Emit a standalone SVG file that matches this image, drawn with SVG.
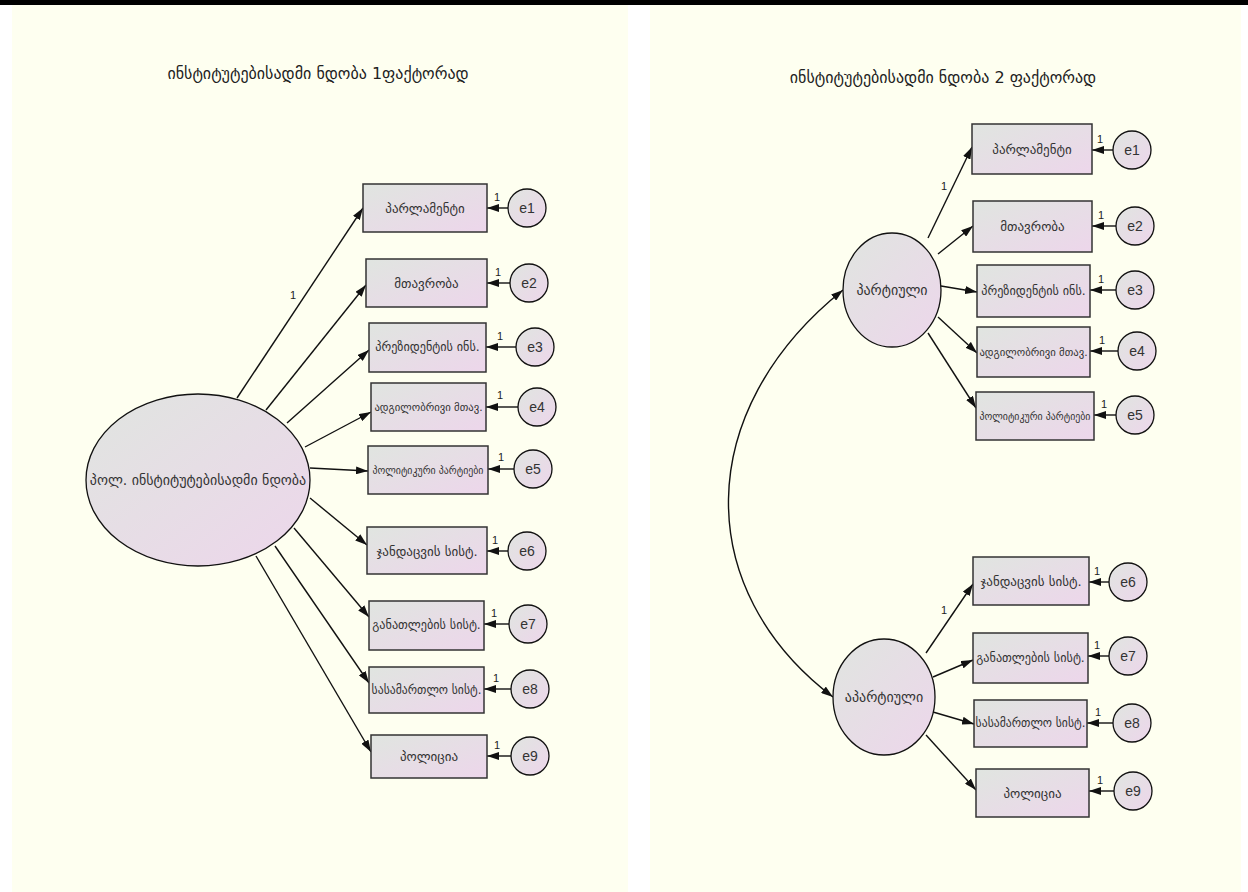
<svg xmlns="http://www.w3.org/2000/svg" width="1248" height="892" viewBox="0 0 1248 892">
<style>
.bg{fill:#FEFFF0}
.box{fill:url(#g);stroke:#333;stroke-width:1.5}
.lat{fill:url(#g);stroke:#111;stroke-width:1.3}
.err{fill:url(#g);stroke:#111;stroke-width:1.3}
.t{font-family:"DejaVu Sans",sans-serif;font-size:13px;fill:#333;text-anchor:middle;dominant-baseline:central}
.lt{font-size:14px}
.s3{font-size:12.2px}
.s4{font-size:10.7px}
.s5{font-size:9.9px}
.s7{font-size:12.2px}
.s8{font-size:11.7px}
.et{font-family:"Liberation Sans",Arial,sans-serif;font-size:14px}
.title{font-family:"DejaVu Sans",sans-serif;font-size:16px;fill:#222;text-anchor:middle}
.n{font-family:"Liberation Sans",Arial,sans-serif;font-size:11px;fill:#222;text-anchor:middle}
.c line,.c path{stroke:#111;stroke-width:1.4;fill:none;marker-end:url(#a)}
.c .dbl{marker-start:url(#a)}
</style>
<defs>
<linearGradient id="g" x1="0" y1="0" x2="1" y2="1">
<stop offset="0" stop-color="#E0E5E0"/>
<stop offset="1" stop-color="#EDD6EB"/>
</linearGradient>
<marker id="a" viewBox="0 0 12 8" refX="12" refY="4" markerWidth="12" markerHeight="8" markerUnits="userSpaceOnUse" orient="auto-start-reverse">
<path d="M0,0 L12,4 L0,8 z" fill="#111"/>
</marker>
</defs>
<rect x="0" y="0" width="1248" height="892" fill="#fff"/>
<rect x="0" y="0" width="1248" height="5" fill="#000"/>
<rect class="bg" x="12" y="5" width="616" height="887"/>
<rect class="bg" x="650" y="5" width="591" height="887"/>
<text class="title" x="318" y="79">ინსტიტუტებისადმი ნდობა 1ფაქტორად</text>
<text class="title" x="943" y="83">ინსტიტუტებისადმი ნდობა 2 ფაქტორად</text>

<g class="c" id="connectors">
<line x1="237" y1="398" x2="363" y2="208"/>
<line x1="266" y1="410" x2="366" y2="285"/>
<line x1="287" y1="423" x2="369" y2="350"/>
<line x1="305" y1="447" x2="371" y2="412"/>
<line x1="310" y1="468" x2="368" y2="471"/>
<line x1="310" y1="498" x2="367" y2="545"/>
<line x1="294" y1="528" x2="369" y2="617"/>
<line x1="275" y1="546" x2="369" y2="683"/>
<line x1="256" y1="556" x2="371" y2="752"/>
<line x1="508" y1="208" x2="487" y2="208"/>
<line x1="510" y1="283" x2="487" y2="283"/>
<line x1="516" y1="347" x2="486" y2="347"/>
<line x1="518" y1="407" x2="486" y2="407"/>
<line x1="514" y1="469" x2="488" y2="469"/>
<line x1="508" y1="551" x2="487" y2="551"/>
<line x1="509" y1="624" x2="484" y2="624"/>
<line x1="511" y1="689" x2="484" y2="689"/>
<line x1="511" y1="756" x2="487" y2="756"/>
<line x1="928" y1="238" x2="972" y2="147"/>
<line x1="938" y1="254" x2="973" y2="226"/>
<line x1="941" y1="286" x2="977" y2="292"/>
<line x1="938" y1="317" x2="977" y2="353"/>
<line x1="928" y1="333" x2="976" y2="408"/>
<line x1="926" y1="653" x2="973" y2="584"/>
<line x1="933" y1="677" x2="973" y2="660"/>
<line x1="933" y1="712" x2="974" y2="724"/>
<line x1="926" y1="735" x2="976" y2="790"/>
<line x1="1113" y1="150" x2="1092" y2="150"/>
<line x1="1116" y1="226" x2="1092" y2="226"/>
<line x1="1116" y1="290" x2="1090" y2="290"/>
<line x1="1118" y1="351" x2="1090" y2="351"/>
<line x1="1116" y1="415" x2="1094" y2="415"/>
<line x1="1109" y1="582" x2="1089" y2="582"/>
<line x1="1109" y1="656" x2="1088" y2="656"/>
<line x1="1113" y1="723" x2="1087" y2="723"/>
<line x1="1114" y1="791" x2="1089" y2="791"/>
<path class="dbl" d="M843,290 C692,411 692,590 833,697"/>
<text class="n" x="293" y="299">1</text>
<text class="n" x="944" y="190">1</text>
<text class="n" x="944" y="614">1</text>
<text class="n" x="497" y="201">1</text>
<text class="n" x="498" y="276">1</text>
<text class="n" x="500" y="340">1</text>
<text class="n" x="500" y="399">1</text>
<text class="n" x="501" y="461">1</text>
<text class="n" x="495" y="544">1</text>
<text class="n" x="494" y="617">1</text>
<text class="n" x="496" y="682">1</text>
<text class="n" x="497" y="749">1</text>
<text class="n" x="1100" y="143">1</text>
<text class="n" x="1101" y="219">1</text>
<text class="n" x="1101" y="283">1</text>
<text class="n" x="1102" y="344">1</text>
<text class="n" x="1104" y="408">1</text>
<text class="n" x="1097" y="575">1</text>
<text class="n" x="1097" y="649">1</text>
<text class="n" x="1098" y="716">1</text>
<text class="n" x="1100" y="784">1</text>
</g>

<g id="L-factor"><ellipse class="lat" cx="198" cy="480" rx="112" ry="86"/><text class="t lt" x="198" y="480">პოლ. ინსტიტუტებისადმი ნდობა</text></g>
<g id="L-v1"><rect class="box" x="363" y="184" width="124" height="48"/><text class="t" x="425" y="208">პარლამენტი</text></g>
<g id="L-v2"><rect class="box" x="366" y="259" width="121" height="48"/><text class="t" x="426.5" y="283">მთავრობა</text></g>
<g id="L-v3"><rect class="box" x="369" y="323" width="117" height="49"/><text class="t s3" x="427.5" y="347">პრეზიდენტის ინს.</text></g>
<g id="L-v4"><rect class="box" x="371" y="383" width="115" height="48"/><text class="t s4" x="428.5" y="407">ადგილობრივი მთავ.</text></g>
<g id="L-v5"><rect class="box" x="368" y="446" width="120" height="48"/><text class="t s5" x="428" y="470">პოლიტიკური პარტიები</text></g>
<g id="L-v6"><rect class="box" x="367" y="527" width="120" height="47"/><text class="t" x="427" y="551">ჯანდაცვის სისტ.</text></g>
<g id="L-v7"><rect class="box" x="369" y="601" width="115" height="49"/><text class="t s7" x="426.5" y="625">განათლების სისტ.</text></g>
<g id="L-v8"><rect class="box" x="369" y="667" width="115" height="46"/><text class="t s8" x="426.5" y="690">სასამართლო სისტ.</text></g>
<g id="L-v9"><rect class="box" x="371" y="735" width="116" height="43"/><text class="t" x="429" y="756">პოლიცია</text></g>
<g id="L-e1"><circle class="err" cx="527" cy="208" r="19"/><text class="t et" x="527" y="208">e1</text></g>
<g id="L-e2"><circle class="err" cx="529" cy="283" r="19"/><text class="t et" x="529" y="283">e2</text></g>
<g id="L-e3"><circle class="err" cx="535" cy="347" r="19"/><text class="t et" x="535" y="347">e3</text></g>
<g id="L-e4"><circle class="err" cx="537" cy="407" r="19"/><text class="t et" x="537" y="407">e4</text></g>
<g id="L-e5"><circle class="err" cx="533" cy="469" r="19"/><text class="t et" x="533" y="469">e5</text></g>
<g id="L-e6"><circle class="err" cx="527" cy="551" r="19"/><text class="t et" x="527" y="551">e6</text></g>
<g id="L-e7"><circle class="err" cx="528" cy="624" r="19"/><text class="t et" x="528" y="624">e7</text></g>
<g id="L-e8"><circle class="err" cx="530" cy="689" r="19"/><text class="t et" x="530" y="689">e8</text></g>
<g id="L-e9"><circle class="err" cx="530" cy="756" r="19"/><text class="t et" x="530" y="756">e9</text></g>

<g id="R-f1"><ellipse class="lat" cx="892" cy="290" rx="49" ry="57"/><text class="t lt" x="892" y="290">პარტიული</text></g>
<g id="R-f2"><ellipse class="lat" cx="884" cy="697" rx="51" ry="58"/><text class="t lt" x="884" y="697">აპარტიული</text></g>
<g id="R-v1"><rect class="box" x="972" y="124" width="120" height="50"/><text class="t" x="1032" y="149">პარლამენტი</text></g>
<g id="R-v2"><rect class="box" x="973" y="201" width="119" height="51"/><text class="t" x="1032.5" y="226">მთავრობა</text></g>
<g id="R-v3"><rect class="box" x="977" y="265" width="113" height="52"/><text class="t s3" x="1033.5" y="291">პრეზიდენტის ინს.</text></g>
<g id="R-v4"><rect class="box" x="977" y="327" width="113" height="50"/><text class="t s4" x="1033.5" y="352">ადგილობრივი მთავ.</text></g>
<g id="R-v5"><rect class="box" x="976" y="392" width="118" height="48"/><text class="t s5" x="1035" y="416">პოლიტიკური პარტიები</text></g>
<g id="R-v6"><rect class="box" x="973" y="557" width="116" height="48"/><text class="t" x="1031" y="581">ჯანდაცვის სისტ.</text></g>
<g id="R-v7"><rect class="box" x="973" y="633" width="115" height="50"/><text class="t s7" x="1030.5" y="658">განათლების სისტ.</text></g>
<g id="R-v8"><rect class="box" x="974" y="700" width="113" height="47"/><text class="t s8" x="1030.5" y="723">სასამართლო სისტ.</text></g>
<g id="R-v9"><rect class="box" x="976" y="769" width="113" height="48"/><text class="t" x="1032.5" y="793">პოლიცია</text></g>
<g id="R-e1"><circle class="err" cx="1132" cy="150" r="19"/><text class="t et" x="1132" y="150">e1</text></g>
<g id="R-e2"><circle class="err" cx="1135" cy="226" r="19"/><text class="t et" x="1135" y="226">e2</text></g>
<g id="R-e3"><circle class="err" cx="1135" cy="290" r="19"/><text class="t et" x="1135" y="290">e3</text></g>
<g id="R-e4"><circle class="err" cx="1137" cy="351" r="19"/><text class="t et" x="1137" y="351">e4</text></g>
<g id="R-e5"><circle class="err" cx="1135" cy="415" r="19"/><text class="t et" x="1135" y="415">e5</text></g>
<g id="R-e6"><circle class="err" cx="1128" cy="582" r="19"/><text class="t et" x="1128" y="582">e6</text></g>
<g id="R-e7"><circle class="err" cx="1128" cy="656" r="19"/><text class="t et" x="1128" y="656">e7</text></g>
<g id="R-e8"><circle class="err" cx="1132" cy="723" r="19"/><text class="t et" x="1132" y="723">e8</text></g>
<g id="R-e9"><circle class="err" cx="1133" cy="791" r="19"/><text class="t et" x="1133" y="791">e9</text></g>
</svg>
